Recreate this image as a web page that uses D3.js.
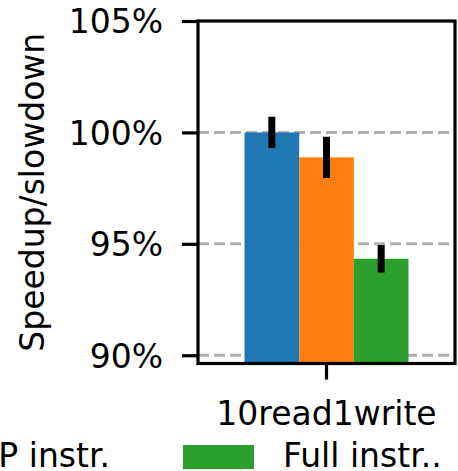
<!DOCTYPE html>
<html>
<head>
<meta charset="utf-8">
<script src="https://cdn.jsdelivr.net/npm/d3@7"></script>
<style>
  body { margin: 0; background: #fff; }
  svg { display: block; font-family: "DejaVu Sans", sans-serif; }
</style>
</head>
<body>
<svg id="chart" width="458" height="471"></svg>
<script>
// data
var categories = ["10read1write"];
var seriesNames = ["Vanilla", "NOP instr.", "Full instr.."];
var seriesColors = ["#1f77b4", "#ff7f0e", "#2ca02c"];
var values = [[100.0], [98.88], [94.33]];
var errors = [[0.70], [0.93], [0.62]];
var yTicks = [90, 95, 100, 105];

var svg = d3.select("#chart");
// note: "top" is reserved on window, so use other names
var plotL = 198, plotR = 455, plotT = 21, plotB = 363.5;

var y = d3.scaleLinear().domain([89.63, 105]).range([plotB, plotT]);
var x0 = d3.scaleBand().domain(categories).range([plotL, plotR])
    .paddingInner(0).paddingOuter(0.2835);
var x1 = d3.scaleBand().domain(seriesNames).range([0, x0.bandwidth()]);

svg.append("clipPath").attr("id", "plotclip")
  .append("rect").attr("x", plotL).attr("y", plotT)
  .attr("width", plotR - plotL).attr("height", plotB - plotT);

// grid lines
svg.append("g").selectAll("line")
  .data(yTicks.filter(function(d){ return d < 105; }))
  .enter().append("line")
  .attr("x1", plotL).attr("x2", plotR)
  .attr("y1", function(d){ return y(d); })
  .attr("y2", function(d){ return y(d); })
  .style("stroke", "#b0b0b0")
  .style("stroke-width", 3)
  .style("stroke-dasharray", "11,5");

// bars
var plot = svg.append("g").attr("clip-path", "url(#plotclip)");
seriesNames.forEach(function(name, i){
  categories.forEach(function(cat, j){
    var bx = x0(cat) + x1(name);
    plot.append("rect")
      .attr("x", bx)
      .attr("y", y(values[i][j]))
      .attr("width", x1.bandwidth())
      .attr("height", plotB - y(values[i][j]) + 5)
      .style("fill", seriesColors[i]);
    plot.append("line")
      .attr("x1", bx + x1.bandwidth() / 2).attr("x2", bx + x1.bandwidth() / 2)
      .attr("y1", y(values[i][j] + errors[i][j]))
      .attr("y2", y(values[i][j] - errors[i][j]))
      .style("stroke", "#000")
      .style("stroke-width", 7);
  });
});

// frame
svg.append("rect")
  .attr("x", plotL).attr("y", plotT)
  .attr("width", plotR - plotL).attr("height", plotB - plotT)
  .style("fill", "none").style("stroke", "#000").style("stroke-width", 3.2);

// y axis
var yAxis = svg.append("g").attr("transform", "translate(" + plotL + ",0)")
  .call(d3.axisLeft(y).tickValues(yTicks).tickSize(16).tickPadding(19)
    .tickFormat(function(d){ return d + "%"; }));
yAxis.select(".domain").remove();
yAxis.selectAll(".tick line").style("stroke-width", 3.2);
yAxis.selectAll(".tick text").style("font-size", "33px")
  .style("font-family", "DejaVu Sans").attr("dy", "0.36em").style("fill", "#000");

// x axis
var xAxis = svg.append("g").attr("transform", "translate(0," + plotB + ")")
  .call(d3.axisBottom(x0).tickSize(16).tickPadding(22));
xAxis.select(".domain").remove();
xAxis.selectAll(".tick line").style("stroke-width", 3.2);
xAxis.selectAll(".tick text").style("font-size", "33px")
  .style("font-family", "DejaVu Sans").style("fill", "#000");

// y label
svg.append("text")
  .attr("transform", "translate(44," + ((plotT + plotB) / 2) + ") rotate(-90)")
  .attr("text-anchor", "middle")
  .style("font-size", "33px")
  .text("Speedup/slowdown");

// legend, laid out right to left so the last entry sits at its spot
var legend = svg.append("g");
var swW = 71, swH = 24, gapText = 29, colGap = 73;
var curX = 183;
for (var k = seriesNames.length - 1; k >= 0; k--) {
  legend.append("text")
    .attr("x", curX + swW + gapText)
    .attr("y", 467)
    .style("font-size", "33px")
    .text(seriesNames[k]);
  legend.append("rect")
    .attr("x", curX).attr("y", 445)
    .attr("width", swW).attr("height", swH)
    .style("fill", seriesColors[k]);
  if (k > 0) {
    var probe = legend.append("text").style("font-size", "33px")
      .text(seriesNames[k - 1]);
    var pw = probe.node().getComputedTextLength();
    probe.remove();
    curX = curX - colGap - pw - gapText - swW;
  }
}
</script>
</body>
</html>
